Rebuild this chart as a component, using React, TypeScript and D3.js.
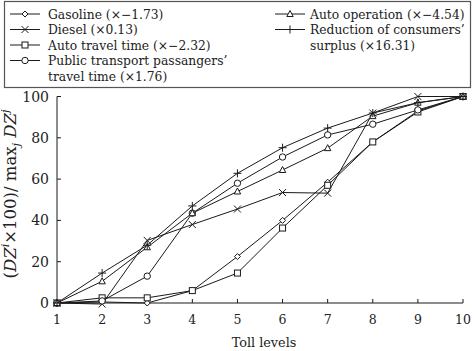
import React from "react";
import * as d3 from "d3";

// toll levels on the x axis
const levels = [1, 2, 3, 4, 5, 6, 7, 8, 9, 10];
const yTicks = [0, 20, 40, 60, 80, 100];

// values
const gasoline = [0, 0.5, 0, 6, 22.5, 40, 58.5, 78, 93, 100];
const diesel = [0, -0.5, 30.3, 38, 45.5, 53.5, 53.2, 92, 100, 100];
const autoTravel = [0, 2.5, 2.5, 6, 14.5, 36.3, 57, 78, 92.5, 100];
const publicTransport = [0, 1, 13, 43.5, 58, 70.7, 81.4, 86.6, 93.5, 100];
const autoOperation = [0, 10.5, 27, 43.5, 54, 64.4, 75, 90.5, 97, 100];
const reduction = [0, 14.5, 28, 47, 62.8, 75.2, 84.7, 92, 97, 100];

const seriesNames = [
  ["Gasoline (×−1.73)"],
  ["Diesel (×0.13)"],
  ["Auto travel time (×−2.32)"],
  ["Public transport passangers’", "travel time (×1.76)"],
  ["Auto operation (×−4.54)"],
  ["Reduction of consumers’", "surplus (×16.31)"],
];
const seriesValues = [gasoline, diesel, autoTravel, publicTransport, autoOperation, reduction];
const markerKinds = ["diamond", "cross", "square", "circle", "triangle", "plus"];

const FONT = "'DejaVu Serif', 'Liberation Serif', serif";
const INK = "#1a1a1a";

const Marker = ({ kind, x, y }: { kind: string; x: number; y: number }) => {
  const s = { fill: "white", stroke: INK, strokeWidth: 1 };
  if (kind === "circle") return <circle cx={x} cy={y} r={3.2} {...s} />;
  if (kind === "diamond")
    return <path d={`M${x},${y - 3}L${x + 3},${y}L${x},${y + 3}L${x - 3},${y}Z`} {...s} />;
  if (kind === "square") return <rect x={x - 3} y={y - 3} width={6} height={6} {...s} />;
  if (kind === "triangle")
    return <path d={`M${x},${y - 3.5}L${x + 3.2},${y + 2.5}L${x - 3.2},${y + 2.5}Z`} {...s} />;
  if (kind === "cross")
    return (
      <path d={`M${x - 3.5},${y - 3.5}L${x + 3.5},${y + 3.5}M${x - 3.5},${y + 3.5}L${x + 3.5},${y - 3.5}`} stroke={INK} strokeWidth={1} />
    );
  return <path d={`M${x - 4},${y}L${x + 4},${y}M${x},${y - 4}L${x},${y + 4}`} stroke={INK} strokeWidth={1} />;
};

export default function App() {
  const width = 474;
  const height = 351;
  const x = d3.scaleLinear().domain([1, 10]).range([57, 463]);
  const y = d3.scaleLinear().domain([0, 100]).range([303, 96.5]);

  const line = d3
    .line<number>()
    .x((_, i) => x(levels[i]))
    .y((d) => y(d));

  // [line start x, row y, text x]
  const legendPos = [
    [10, 14, 48],
    [10, 29.5, 48],
    [10, 45, 48],
    [10, 60.5, 48],
    [275, 14, 310],
    [275, 29.5, 310],
  ];

  return (
    <svg width={width} height={height} style={{ position: "absolute", left: 0, top: 0 }} fontFamily={FONT}>
      <rect width={width} height={height} fill="white" />

      {/* legend */}
      <rect x={4.5} y={1.5} width={466} height={86} fill="white" stroke="#555" strokeWidth={1.2} />
      {seriesNames.map((lines, k) => {
        const [lx, ly, tx] = legendPos[k];
        return (
          <g key={k}>
            <line x1={lx} x2={lx + 30} y1={ly} y2={ly} stroke={INK} strokeWidth={1} />
            <Marker kind={markerKinds[k]} x={lx + 15} y={ly} />
            {lines.map((t, j) => (
              <text key={j} x={tx} y={ly + 4.5 + j * 15.5} fontSize={12.3} fill="#222">
                {t}
              </text>
            ))}
          </g>
        );
      })}

      {/* axes */}
      <line x1={x(1)} x2={x(10)} y1={y(0)} y2={y(0)} stroke={INK} strokeWidth={1} />
      <line x1={x(1)} x2={x(1)} y1={y(0)} y2={y(100)} stroke={INK} strokeWidth={1} />
      {levels.map((v) => (
        <g key={v}>
          <line x1={x(v)} x2={x(v)} y1={y(0)} y2={y(0) - 4} stroke={INK} />
          <text x={x(v)} y={323.5} textAnchor="middle" fontSize={12.5} fill="#222">
            {v}
          </text>
        </g>
      ))}
      {yTicks.map((v) => (
        <g key={v}>
          <line x1={x(1)} x2={x(1) + 4} y1={y(v)} y2={y(v)} stroke={INK} />
          <text x={49} y={y(v) + 5} textAnchor="end" fontSize={14} fill="#222">
            {v}
          </text>
        </g>
      ))}
      <text x={264} y={346.5} textAnchor="middle" fontSize={12.8} fill="#222">
        Toll levels
      </text>
      <text transform="translate(15.5,194) rotate(-90)" textAnchor="middle" fontSize={16.5} fill="#222">
        (<tspan fontStyle="italic">DZ</tspan>
        <tspan fontStyle="italic" fontSize={11} dy={-7}>i</tspan>
        <tspan dy={7}>×100)/ max</tspan>
        <tspan fontStyle="italic" fontSize={11} dy={4}>j</tspan>
        <tspan fontStyle="italic" dy={-4}> DZ</tspan>
        <tspan fontStyle="italic" fontSize={11} dy={-7}>j</tspan>
      </text>

      {/* series */}
      {seriesValues.map((vals, k) => (
        <g key={k}>
          <path d={line(vals) || ""} fill="none" stroke={INK} strokeWidth={1} />
          {vals.map((v, i) => (
            <Marker key={i} kind={markerKinds[k]} x={x(levels[i])} y={y(v)} />
          ))}
        </g>
      ))}
    </svg>
  );
}
